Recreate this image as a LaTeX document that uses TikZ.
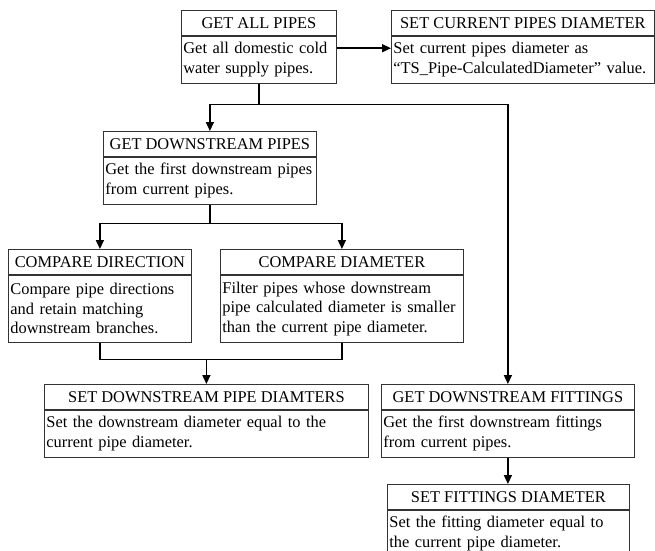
\documentclass[tikz,border=0pt]{standalone}
\usepackage{fontspec}
\setmainfont{Liberation Serif}
\usetikzlibrary{arrows.meta}

\begin{document}
\begin{tikzpicture}[x=1pt,y=-1pt,
  every node/.style={font=\fontsize{16.4}{19.5}\selectfont, text=black},
  head/.style={draw=black!80, line width=0.8pt, rectangle, minimum height=25pt,
    inner sep=0pt, anchor=north west, align=center},
  body/.style={draw=black!80, line width=0.8pt, rectangle, inner xsep=2pt,
    inner ysep=0pt, anchor=north west, align=left},
  wire/.style={line width=1.6pt},
  link/.style={line width=1.6pt, -{Triangle[length=9pt,width=8pt]}}
]
\clip (0,0) rectangle (655,550);
\useasboundingbox (0,0) rectangle (655,550);

% top row
\node[head, minimum width=155pt] (allH) at (181,10) {GET ALL PIPES};
\node[body, minimum width=155pt, text width=151pt, minimum height=47pt]
  (allB) at (allH.south west)
  {\mbox{Get all domestic cold}\\\mbox{water supply pipes.}};

\node[head, minimum width=263pt] (curH) at (391,10) {SET CURRENT PIPES DIAMETER};
\node[body, minimum width=263pt, text width=259pt, minimum height=47pt]
  (curB) at (curH.south west)
  {\mbox{Set current pipes diameter as}\\\mbox{“TS\_Pipe-CalculatedDiameter” value.}};

% downstream pipes
\node[head, minimum width=213pt] (dsH) at (103,131) {GET DOWNSTREAM PIPES};
\node[body, minimum width=213pt, text width=209pt, minimum height=47pt]
  (dsB) at (dsH.south west)
  {\mbox{Get the first downstream pipes}\\\mbox{from current pipes.}};

% comparisons
\node[head, minimum width=183pt] (cdirH) at (8,249) {COMPARE DIRECTION};
\node[body, minimum width=183pt, text width=179pt, minimum height=67pt]
  (cdirB) at (cdirH.south west)
  {\mbox{Compare pipe directions}\\\mbox{and retain matching}\\\mbox{downstream branches.}};

\node[head, minimum width=243pt] (cdiaH) at (220,249) {COMPARE DIAMETER};
\node[body, minimum width=243pt, text width=239pt, minimum height=67pt]
  (cdiaB) at (cdiaH.south west)
  {\mbox{Filter pipes whose downstream}\\\mbox{pipe calculated diameter is smaller}\\\mbox{than the current pipe diameter.}};

% setting downstream diameters
\node[head, minimum width=324pt] (sdsH) at (44,384) {SET DOWNSTREAM PIPE DIAMTERS};
\node[body, minimum width=324pt, text width=320pt, minimum height=47pt]
  (sdsB) at (sdsH.south west)
  {\mbox{Set the downstream diameter equal to the}\\\mbox{current pipe diameter.}};

% fittings
\node[head, minimum width=253pt] (fitH) at (381,384) {GET DOWNSTREAM FITTINGS};
\node[body, minimum width=253pt, text width=249pt, minimum height=47pt]
  (fitB) at (fitH.south west)
  {\mbox{Get the first downstream fittings}\\\mbox{from current pipes.}};

\node[head, minimum width=242pt] (sfitH) at (387,484) {SET FITTINGS DIAMETER};
\node[body, minimum width=242pt, text width=238pt, minimum height=47pt]
  (sfitB) at (sfitH.south west)
  {\mbox{Set the fitting diameter equal to}\\\mbox{the current pipe diameter.}};

% connectors
\draw[link] ([yshift=11.5pt]allB.east) -- ([yshift=11.5pt]curB.west);
\draw[link] (allB.south) -- ++(0,21) -| (dsH.north);
\draw[link] (allB.south) -- ++(0,21) -| (fitH.north);

\draw[link] (dsB.south) -- ++(0,19) -| (cdirH.north);
\draw[link] (dsB.south) -- ++(0,19) -| (cdiaH.north);

\draw[wire] (cdirB.south) -- ++(0,17) coordinate (merge) -| (cdiaB.south);
\draw[link] (merge -| sdsH.north) -- (sdsH.north);

\draw[link] (fitB.south) -- (fitB.south |- sfitH.north);
\end{tikzpicture}
\end{document}
